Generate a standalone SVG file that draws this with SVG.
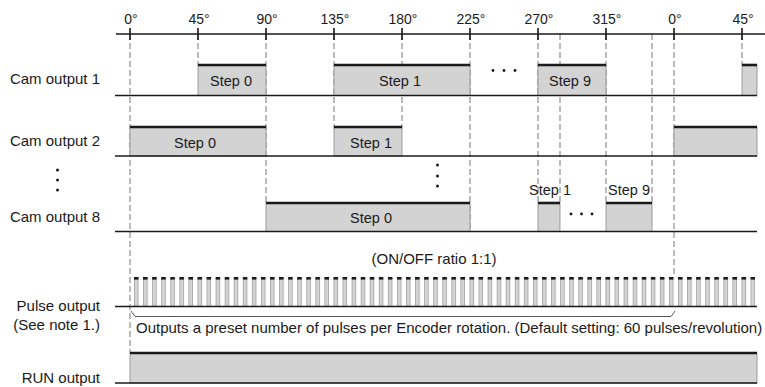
<svg xmlns="http://www.w3.org/2000/svg" width="765" height="387" viewBox="0 0 765 387">
<style>
text{font-family:"Liberation Sans",Arial,sans-serif;font-size:15px;fill:#1a1a1a}
.deg{text-anchor:middle;font-size:14px}
.lbl{text-anchor:end}
.st{text-anchor:middle;font-size:14.5px}
.dash{stroke:#666;stroke-width:0.9;stroke-dasharray:6 3;fill:none}
.base{stroke:#1a1a1a;stroke-width:1.4;fill:none}
.tick{stroke:#1a1a1a;stroke-width:1.6}
.box{fill:#d3d3d3;stroke:#8a8a8a;stroke-width:0.8}
.top{stroke:#1a1a1a;stroke-width:2.6}
.dot{fill:#1a1a1a}
</style>
<defs>
<pattern id="pulses" patternUnits="userSpaceOnUse" x="134" y="277" width="9.0667" height="29.5">
<rect x="0.3" y="0" width="4" height="29.5" fill="#d3d3d3" stroke="#8a8a8a" stroke-width="0.6"/>
<rect x="0" y="0" width="4.6" height="2.6" fill="#1a1a1a"/>
</pattern>
</defs>
<rect width="765" height="387" fill="#fff"/>

<g id="guides">
<line class="dash" x1="130" y1="34" x2="130" y2="353"/>
<line class="dash" x1="198" y1="34" x2="198" y2="65"/>
<line class="dash" x1="266" y1="34" x2="266" y2="203"/>
<line class="dash" x1="334" y1="34" x2="334" y2="127"/>
<line class="dash" x1="402" y1="34" x2="402" y2="127"/>
<line class="dash" x1="470" y1="34" x2="470" y2="231"/>
<line class="dash" x1="538" y1="34" x2="538" y2="203"/>
<line class="dash" x1="560" y1="34" x2="560" y2="203"/>
<line class="dash" x1="606" y1="34" x2="606" y2="203"/>
<line class="dash" x1="652" y1="34" x2="652" y2="203"/>
<line class="dash" x1="674" y1="34" x2="674" y2="277"/>
<line class="dash" x1="742" y1="34" x2="742" y2="65"/>
</g>

<g id="axis">
<line class="base" x1="116" y1="34" x2="765" y2="34"/>
<line class="tick" x1="130" y1="28" x2="130" y2="40"/>
<line class="tick" x1="198" y1="28" x2="198" y2="40"/>
<line class="tick" x1="266" y1="28" x2="266" y2="40"/>
<line class="tick" x1="334" y1="28" x2="334" y2="40"/>
<line class="tick" x1="402" y1="28" x2="402" y2="40"/>
<line class="tick" x1="470" y1="28" x2="470" y2="40"/>
<line class="tick" x1="538" y1="28" x2="538" y2="40"/>
<line class="tick" x1="606" y1="28" x2="606" y2="40"/>
<line class="tick" x1="674" y1="28" x2="674" y2="40"/>
<line class="tick" x1="742" y1="28" x2="742" y2="40"/>
<text class="deg" x="131" y="24">0°</text>
<text class="deg" x="199" y="24">45°</text>
<text class="deg" x="267" y="24">90°</text>
<text class="deg" x="335" y="24">135°</text>
<text class="deg" x="403" y="24">180°</text>
<text class="deg" x="471" y="24">225°</text>
<text class="deg" x="539" y="24">270°</text>
<text class="deg" x="607" y="24">315°</text>
<text class="deg" x="675" y="24">0°</text>
<text class="deg" x="743" y="24">45°</text>
</g>

<g id="labels">
<text class="lbl" x="100" y="84">Cam output 1</text>
<text class="lbl" x="100" y="146">Cam output 2</text>
<text class="lbl" x="100" y="222">Cam output 8</text>
<text class="lbl" x="100" y="311">Pulse output</text>
<text class="lbl" x="100" y="330">(See note 1.)</text>
<text class="lbl" x="100" y="382.5">RUN output</text>
<circle class="dot" cx="57.5" cy="170" r="1.5"/>
<circle class="dot" cx="57.5" cy="180" r="1.5"/>
<circle class="dot" cx="57.5" cy="190" r="1.5"/>
</g>

<g id="cam1">
<rect class="box" x="198" y="65" width="68" height="30.5"/>
<line class="top" x1="198" y1="65" x2="266" y2="65"/>
<text class="st" x="231" y="86">Step 0</text>
<rect class="box" x="334" y="65" width="136" height="30.5"/>
<line class="top" x1="334" y1="65" x2="470" y2="65"/>
<text class="st" x="400" y="86">Step 1</text>
<circle class="dot" cx="493" cy="70.5" r="1.4"/>
<circle class="dot" cx="504" cy="70.5" r="1.4"/>
<circle class="dot" cx="515" cy="70.5" r="1.4"/>
<rect class="box" x="538" y="65" width="68" height="30.5"/>
<line class="top" x1="538" y1="65" x2="606" y2="65"/>
<text class="st" x="570" y="86">Step 9</text>
<rect class="box" x="742" y="65" width="15" height="30.5"/>
<line class="top" x1="742" y1="65" x2="757" y2="65"/>
<line class="base" x1="115" y1="95.5" x2="757" y2="95.5"/>
</g>

<g id="cam2">
<rect class="box" x="130" y="127" width="136" height="29"/>
<line class="top" x1="130" y1="127" x2="266" y2="127"/>
<text class="st" x="195" y="148">Step 0</text>
<rect class="box" x="334" y="127" width="68" height="29"/>
<line class="top" x1="334" y1="127" x2="402" y2="127"/>
<text class="st" x="371" y="148">Step 1</text>
<rect class="box" x="674" y="127" width="83" height="29"/>
<line class="top" x1="674" y1="127" x2="757" y2="127"/>
<line class="base" x1="115" y1="156" x2="757" y2="156"/>
<circle class="dot" cx="437.5" cy="165" r="1.5"/>
<circle class="dot" cx="437.5" cy="176" r="1.5"/>
<circle class="dot" cx="437.5" cy="186" r="1.5"/>
</g>

<g id="cam8">
<rect class="box" x="266" y="203" width="204" height="28.5"/>
<line class="top" x1="266" y1="203" x2="470" y2="203"/>
<text class="st" x="371" y="223">Step 0</text>
<rect class="box" x="538" y="203" width="22" height="28.5"/>
<line class="top" x1="538" y1="203" x2="560" y2="203"/>
<text class="st" x="550" y="195">Step 1</text>
<circle class="dot" cx="571" cy="214" r="1.4"/>
<circle class="dot" cx="581.5" cy="214" r="1.4"/>
<circle class="dot" cx="592" cy="214" r="1.4"/>
<rect class="box" x="606" y="203" width="46" height="28.5"/>
<line class="top" x1="606" y1="203" x2="652" y2="203"/>
<text class="st" x="629" y="195">Step 9</text>
<line class="base" x1="115" y1="231.5" x2="757" y2="231.5"/>
</g>

<g id="pulse">
<text class="st" x="434" y="264" style="font-size:15px">(ON/OFF ratio 1:1)</text>
<rect x="134" y="277" width="621" height="29.5" fill="url(#pulses)"/>
<line class="base" x1="115" y1="306.5" x2="757" y2="306.5"/>
<path d="M131,311 L135,316.5 H671 L675,311" fill="none" stroke="#444" stroke-width="0.9"/>
<text x="136" y="333">Outputs a preset number of pulses per Encoder rotation. (Default setting: 60 pulses/revolution)</text>
</g>

<g id="run">
<rect class="box" x="130" y="353" width="627" height="30"/>
<line class="top" x1="130" y1="353" x2="757" y2="353"/>
<line class="base" x1="115" y1="383" x2="757" y2="383"/>
</g>
</svg>
